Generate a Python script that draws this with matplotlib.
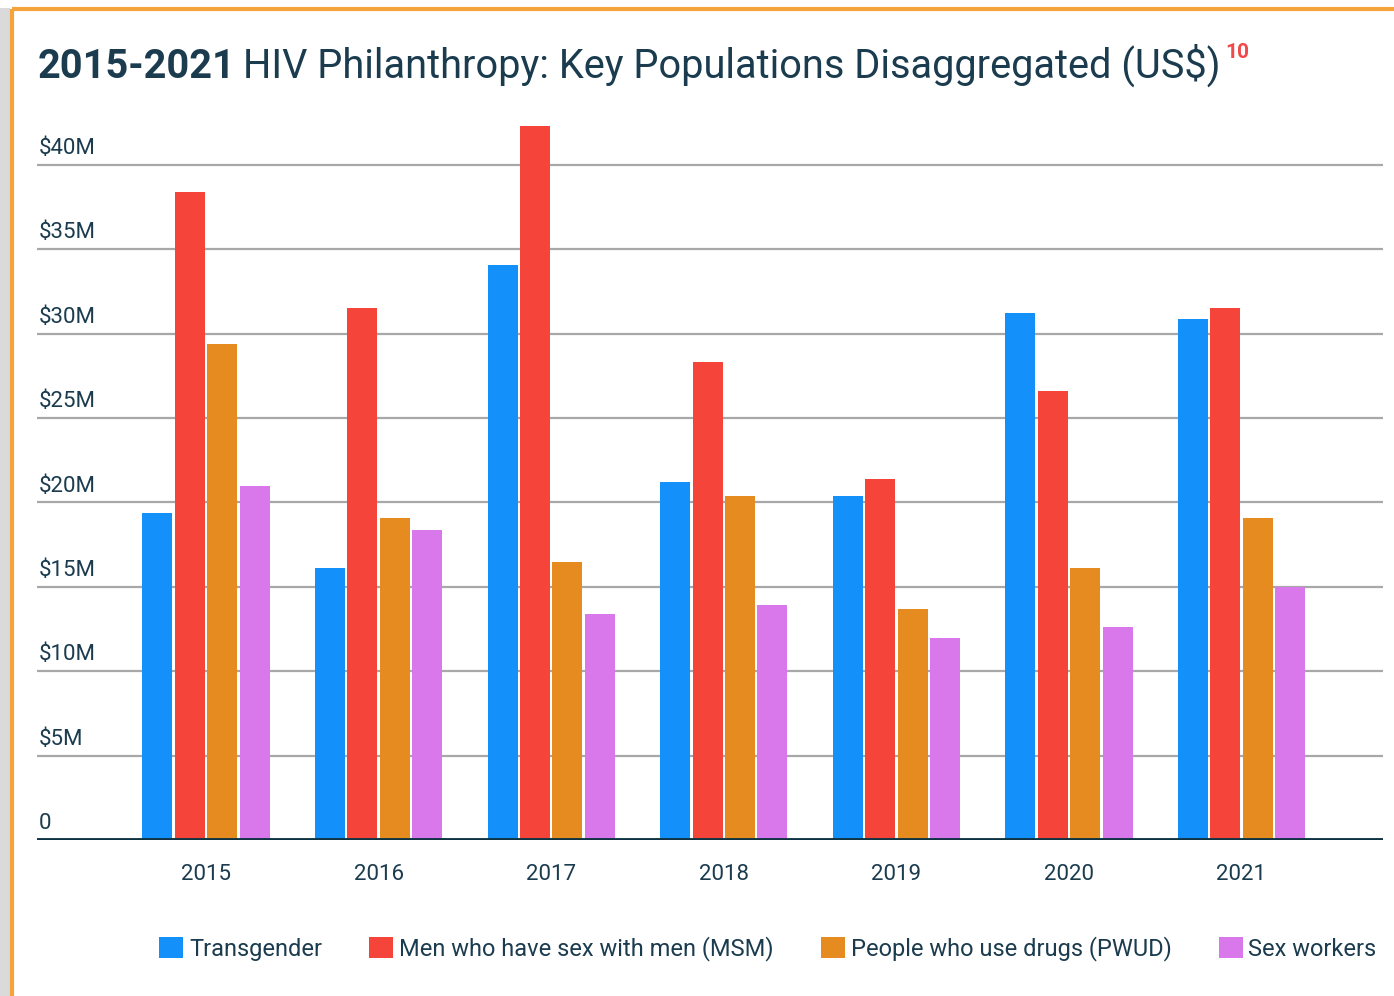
import matplotlib
matplotlib.use("Agg")
import matplotlib.pyplot as plt
from matplotlib.patches import Patch, Rectangle
from matplotlib.lines import Line2D
import numpy as np

years = ["2015", "2016", "2017", "2018", "2019", "2020", "2021"]
series_names = ["Transgender", "Men who have sex with men (MSM)",
                "People who use drugs (PWUD)", "Sex workers"]
transgender = [19.4, 16.1, 34.1, 21.2, 20.4, 31.2, 30.9]
msm = [38.4, 31.5, 42.3, 28.3, 21.4, 26.6, 31.5]
pwud = [29.4, 19.1, 16.5, 20.4, 13.7, 16.1, 19.1]
sex_workers = [21.0, 18.4, 13.4, 13.9, 12.0, 12.6, 15.0]
yticks = [0, 5, 10, 15, 20, 25, 30, 35, 40]
ytick_labels = ["0", "\\$5M", "\\$10M", "\\$15M", "\\$20M", "\\$25M", "\\$30M", "\\$35M", "\\$40M"]

colors = ["#1490FB", "#F5443A", "#E58B1F", "#D978EB"]
text_color = "#1B3B4E"
title_font = "Roboto"
label_font = "Roboto"

W, H = 1394, 996
fig = plt.figure(figsize=(W / 100, H / 100), dpi=100)
fig.patch.set_facecolor("white")

# frame: shadow + orange border
fig.patches.append(Rectangle((0, 0), 10 / W, 1 - 8 / H, transform=fig.transFigure,
                             facecolor="#DADADA", edgecolor="none", zorder=0))
fig.add_artist(Line2D([12 / W, 1], [1 - 9 / H, 1 - 9 / H], transform=fig.transFigure,
                      color="#F5A33C", lw=3, solid_capstyle="butt"))
fig.add_artist(Line2D([12 / W, 12 / W], [0, 1 - 9 / H], transform=fig.transFigure,
                      color="#F5A33C", lw=3, solid_capstyle="butt"))

left, right = 37 / W, 1383 / W
bottom = 1 - 840 / H
ymax = 43.0
px_per_unit = 16.875
top_px = 840 - ymax * px_per_unit
ax = fig.add_axes([left, bottom, right - left, (840 - top_px) / H])

x = np.arange(len(years))
bw = 0.174
step = 0.188
data = [transgender, msm, pwud, sex_workers]
for i, (vals, c) in enumerate(zip(data, colors)):
    ax.bar(x + (i - 1.5) * step, vals, width=bw, color=c, zorder=3)

ax.set_xlim(-0.98, 6.82)
ax.set_ylim(0, ymax)
for s in ax.spines.values():
    s.set_visible(False)
ax.set_yticks([])
ax.set_xticks(x)
ax.set_xticklabels(years, fontsize=16, color=text_color, family=label_font)
ax.tick_params(axis="x", length=0, pad=17)

for yv, lab in zip(yticks, ytick_labels):
    if yv > 0:
        ax.axhline(yv, color="#A8A8A8", lw=1.6, zorder=1)
    ax.text(0.001, yv + 0.35, lab, transform=ax.get_yaxis_transform(),
            ha="left", va="bottom", fontsize=16, color=text_color,
            family=label_font)
ax.axhline(0, color="#0E3443", lw=3.5, zorder=4)

# title (auto-fit to reference width: x 38..1222)
fig.canvas.draw()
r = fig.canvas.get_renderer()
ty = 1 - 78 / H
fs = 40
t1 = fig.text(38 / W, ty, "2015-2021", fontsize=fs, fontweight="bold",
              color=text_color, va="baseline", family=title_font)
t2 = fig.text(0, ty, "HIV Philanthropy: Key Populations Disaggregated (US\\$)",
              fontsize=fs, color=text_color, va="baseline", family=title_font)
for _ in range(3):
    fig.canvas.draw()
    bb = t1.get_window_extent(r)
    t2.set_x((bb.x1 + fs * 0.25) / W)
    fig.canvas.draw()
    bb2 = t2.get_window_extent(r)
    total = bb2.x1 - 38
    fs = fs * (1222 - 38) / total
    t1.set_fontsize(fs)
    t2.set_fontsize(fs)
fig.canvas.draw()
bb = t1.get_window_extent(r)
t2.set_x((bb.x1 + fs * 0.25) / W)
fig.canvas.draw()
bb2 = t2.get_window_extent(r)
fig.text((bb2.x1 + 5) / W, 1 - 58 / H, "10", fontsize=15, color="#F2484A",
         va="baseline", fontweight="bold", family=title_font)

handles = [Patch(facecolor=c, edgecolor="none") for c in colors]
cs = 1.0
leg = None
for _ in range(3):
    if leg is not None:
        leg.remove()
    leg = fig.legend(handles, series_names, loc="center",
                     bbox_to_anchor=((153 + 1383) / 2 / W, 1 - 949 / H),
                     ncol=4, frameon=False, handlelength=1.0, handleheight=1.0,
                     handletextpad=0.25, columnspacing=cs, borderpad=0, borderaxespad=0,
                     prop=dict(family=label_font, size=17))
    for t in leg.get_texts():
        t.set_color(text_color)
    fig.canvas.draw()
    lb = leg.get_window_extent(r)
    extra = (1383 - 153) - lb.width
    cs = max(0.2, cs + extra / 3 / 17)

fig.savefig("out.png", dpi=100)
